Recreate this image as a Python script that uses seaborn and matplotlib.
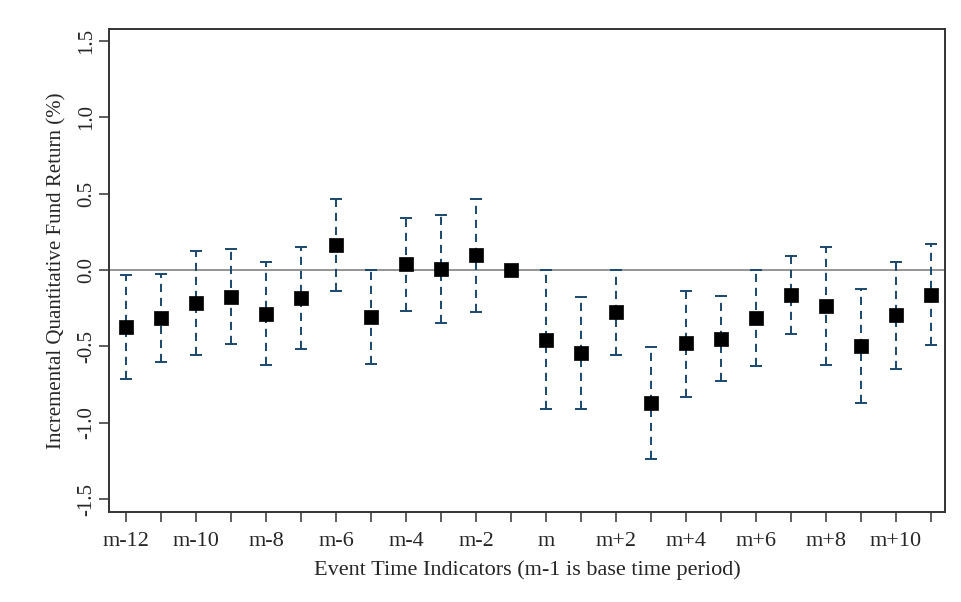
import numpy as np
import pandas as pd
import matplotlib
matplotlib.use("Agg")
import matplotlib.pyplot as plt
import seaborn as sns

# event time indicators and estimates
periods = ['m-12', 'm-11', 'm-10', 'm-9', 'm-8', 'm-7', 'm-6', 'm-5', 'm-4', 'm-3',
           'm-2', 'm-1', 'm', 'm+1', 'm+2', 'm+3', 'm+4', 'm+5', 'm+6', 'm+7',
           'm+8', 'm+9', 'm+10', 'm+11']
coef = [-0.371, -0.313, -0.216, -0.174, -0.285, -0.184, 0.167, -0.308, 0.037, 0.007,
        0.098, 0.0, -0.456, -0.540, -0.277, -0.871, -0.478, -0.448, -0.314, -0.162,
        -0.234, -0.498, -0.297, -0.162]
ci_low = [-0.711, -0.599, -0.557, -0.485, -0.623, -0.518, -0.137, -0.616, -0.271, -0.346,
          -0.273, 0.0, -0.912, -0.907, -0.557, -1.235, -0.828, -0.727, -0.625, -0.420,
          -0.620, -0.871, -0.649, -0.489]
ci_high = [-0.033, -0.024, 0.124, 0.138, 0.054, 0.151, 0.468, 0.0, 0.341, 0.361,
           0.464, 0.0, 0.0, -0.173, 0.0, -0.503, -0.134, -0.168, 0.0, 0.095,
           0.151, -0.124, 0.054, 0.168]
yticks = [-1.5, -1.0, -0.5, 0.0, 0.5, 1.0, 1.5]

df = pd.DataFrame({'period': periods, 'coef': coef, 'lo': ci_low, 'hi': ci_high})
df['pos'] = np.arange(len(df))
df['err_lo'] = df['coef'] - df['lo']
df['err_hi'] = df['hi'] - df['coef']

sns.set_style("ticks")
plt.rcParams['font.family'] = ['Liberation Serif', 'DejaVu Serif']

fig = plt.figure(figsize=(9.61, 6.02), dpi=100)
ax = fig.add_axes([0.1134, 0.149, 0.870, 0.8035])

ax.axhline(0, color='#8c8c8c', lw=1.3, zorder=1)

# confidence intervals (base period has none)
ci = df[df['period'] != 'm-1']
eb = ax.errorbar(ci['pos'], ci['coef'], yerr=[ci['err_lo'], ci['err_hi']],
                 fmt='none', ecolor='#1a476f', elinewidth=1.4, capsize=4.5,
                 capthick=1.4, zorder=2)
eb[2][0].set_linestyle((0, (4.2, 3.0)))

sns.scatterplot(data=df, x='pos', y='coef', marker='s', s=88, color='black',
                edgecolor='black', linewidth=0.5, ax=ax, zorder=3, legend=False)

ax.set_xlim(-0.49, 23.4)
ax.set_ylim(-1.585, 1.58)
ax.set_xticks(df['pos'])
ax.set_xticklabels([p if i % 2 == 0 else '' for i, p in enumerate(periods)])
ax.set_yticks(yticks)
ax.set_yticklabels([f'{t:.1f}' for t in yticks], rotation=90, va='center')

for s in ax.spines.values():
    s.set_visible(True)
    s.set_color('#333333')
    s.set_linewidth(1.4)
ax.tick_params(axis='both', length=7, width=1.1, color='#333333')
ax.tick_params(axis='x', labelsize=16, pad=7)
ax.tick_params(axis='y', labelsize=15, pad=2)

ax.set_xlabel('Event Time Indicators (m-1 is base time period)', fontsize=16, labelpad=7)
ax.set_ylabel('Incremental Quantitative Fund Return (%)', fontsize=15, labelpad=8)

fig.savefig('out.png', dpi=100)
